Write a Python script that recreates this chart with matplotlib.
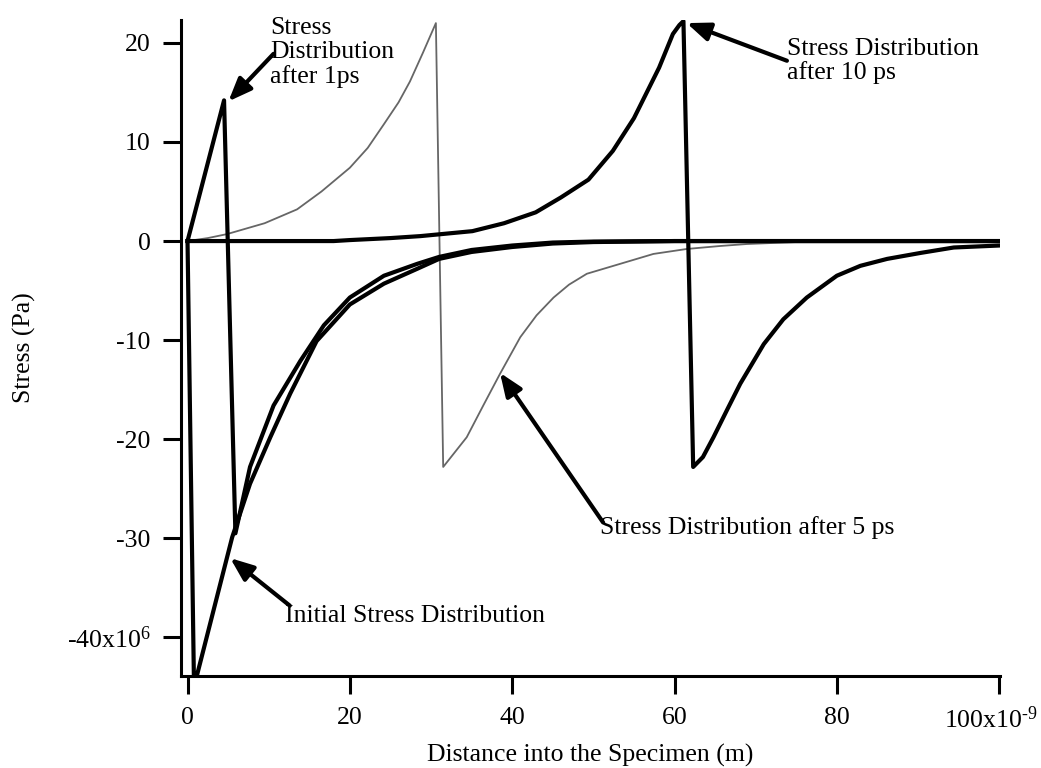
import matplotlib
matplotlib.use("Agg")
import matplotlib.pyplot as plt
from matplotlib.transforms import ScaledTranslation

# distance in units of 1e-9 m, stress in units of 1e6 Pa
x_initial = [0, 0.8, 5.5, 7.7, 10.2, 12.65, 15.9, 20.0, 24.2, 28.3, 31.0, 35, 40, 45, 50, 60, 80, 100]
s_initial = [0, -45.0, -29.9, -24.5, -19.8, -15.4, -10.1, -6.4, -4.3, -2.8, -1.8, -1.1, -0.6, -0.25, -0.1, 0, 0, 0]

x_1ps = [0, 4.5, 5.9, 7.7, 10.6, 13.9, 16.8, 20.0, 24.2, 28.3, 31.0, 35, 40, 45, 50, 60, 80, 100]
s_1ps = [0, 14.2, -29.5, -22.8, -16.6, -12.1, -8.5, -5.7, -3.5, -2.3, -1.6, -0.9, -0.45, -0.15, -0.05, 0, 0, 0]

x_5ps = [0, 2.5, 4.85, 9.5, 13.5, 16.5, 20.0, 22.2, 24.2, 26.0, 27.4, 29.0, 30.6,
         31.5, 34.4, 36.5, 38.5, 41.0, 43.0, 45.1, 47.0, 49.2, 53.3, 57.4, 61.5, 65.6, 68.9, 75, 100]
s_5ps = [0, 0.3, 0.7, 1.8, 3.2, 5.0, 7.4, 9.4, 11.8, 14.0, 16.1, 19.0, 22.0,
         -22.8, -19.8, -16.5, -13.4, -9.7, -7.5, -5.7, -4.4, -3.3, -2.3, -1.3, -0.8, -0.5, -0.3, -0.1, 0]

x_10ps = [0, 18, 20, 25, 28.7, 35.1, 39, 42.9, 46.0, 49.4, 52.4, 55.0, 58.1, 59.8, 60.6, 61.1,
          62.3, 63.5, 64.8, 66.5, 68.1, 71.0, 73.4, 76.3, 80.0, 82.9, 86.2, 90.3, 94.4, 100]
s_10ps = [0, 0, 0.1, 0.3, 0.5, 1.0, 1.8, 2.9, 4.4, 6.2, 9.1, 12.4, 17.5, 20.9, 21.8, 22.2,
          -22.8, -21.8, -19.8, -17.0, -14.4, -10.4, -7.9, -5.7, -3.5, -2.5, -1.8, -1.2, -0.65, -0.45]

xtick_vals = [0, 20, 40, 60, 80, 100]
xtick_labels = ["0", "20", "40", "60", "80", r"100x10$^{\text{-}9}$"]
ytick_vals = [-40, -30, -20, -10, 0, 10, 20]
ytick_labels = ["-40x10$^{6}$", "-30", "-20", "-10", "0", "10", "20"]

plt.rcParams["font.family"] = ["Liberation Serif", "DejaVu Serif"]
plt.rcParams["mathtext.fontset"] = "custom"
plt.rcParams["mathtext.rm"] = "Liberation Serif"
plt.rcParams["mathtext.it"] = "Liberation Serif:italic"
plt.rcParams["mathtext.bf"] = "Liberation Serif:bold"
FS = 18.5


def arrow(ax, tip, tail):
    ax.annotate("", xy=tip, xytext=tail, annotation_clip=False,
                arrowprops=dict(arrowstyle="-|>,head_length=0.7,head_width=0.28",
                                lw=3, color="k", mutation_scale=20,
                                shrinkA=0, shrinkB=0))


def main():
    fig = plt.figure(figsize=(10.41, 7.68), dpi=100)
    ax = fig.add_axes([0.1739, 0.1198, 0.7867, 0.854])

    ax.plot(x_5ps, s_5ps, color="0.4", lw=1.3)
    ax.plot(x_initial, s_initial, color="k", lw=3)
    ax.plot(x_1ps, s_1ps, color="k", lw=3)
    ax.plot(x_10ps, s_10ps, color="k", lw=3)

    ax.set_xlim(-0.8, 100.1)
    ax.set_ylim(-43.9, 22.3)
    ax.set_xticks(xtick_vals, labels=xtick_labels)
    ax.set_yticks(ytick_vals, labels=ytick_labels)
    for side in ("top", "right"):
        ax.spines[side].set_visible(False)
    for side in ("left", "bottom"):
        ax.spines[side].set_linewidth(2.2)
    ax.tick_params(direction="out", length=13, width=2.2, labelsize=FS, pad=9)

    # the last x label sits a little left of its tick, as in the original
    last = ax.xaxis.get_major_ticks()[-1].label1
    last.set_transform(last.get_transform() + ScaledTranslation(-6 / 72, 0, fig.dpi_scale_trans))

    ax.set_xlabel("Distance into the Specimen (m)", fontsize=FS, labelpad=8)
    ax.set_ylabel("Stress (Pa)", fontsize=FS, labelpad=22)

    # annotations (va="baseline" anchors the last line)
    ax.text(10.2, 15.95, "Stress\nDistribution\nafter 1ps", fontsize=FS, va="baseline",
            linespacing=1.12, clip_on=False)
    arrow(ax, (5.04, 14.1), (10.6, 18.9))

    ax.text(73.85, 16.35, "Stress Distribution\nafter 10 ps", fontsize=FS, va="baseline",
            linespacing=1.08)
    arrow(ax, (61.5, 22.0), (73.85, 18.2))

    ax.text(50.8, -29.6, "Stress Distribution after 5 ps", fontsize=FS, va="baseline")
    arrow(ax, (38.5, -13.3), (51.2, -28.4))

    ax.text(12.0, -38.5, "Initial Stress Distribution", fontsize=FS, va="baseline")
    arrow(ax, (5.26, -32.0), (12.6, -36.8))

    fig.savefig("out.png", dpi=100)


if __name__ == "__main__":
    main()
